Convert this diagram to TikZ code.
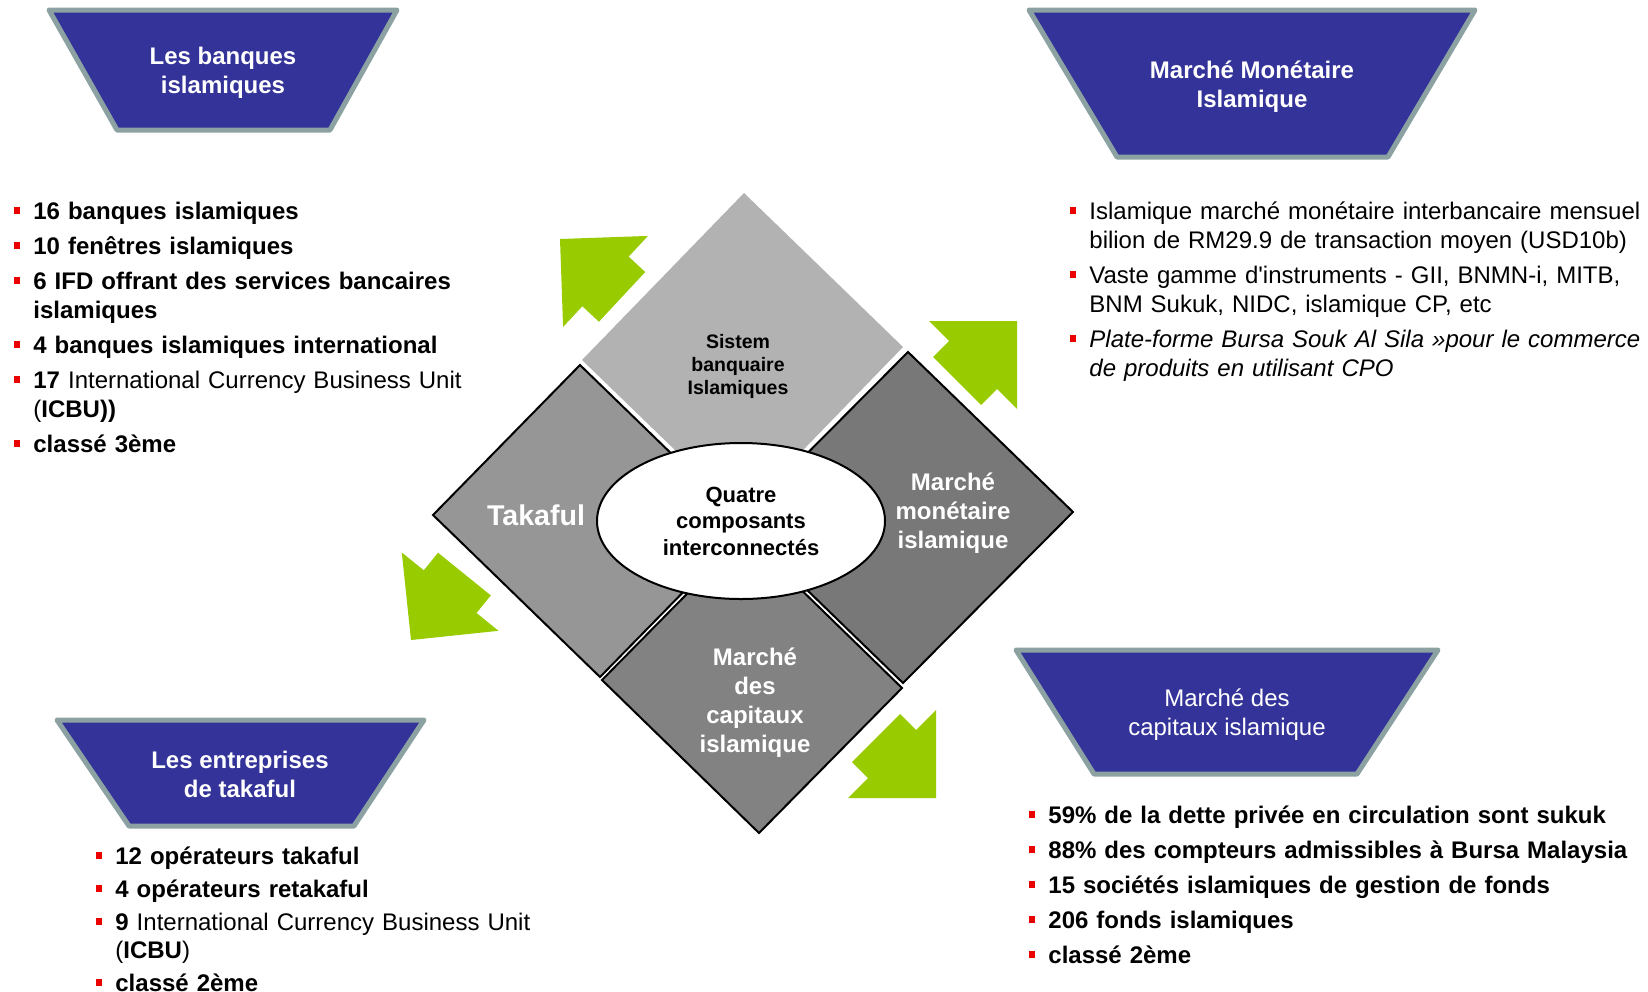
\documentclass[tikz,border=0pt]{standalone}
\usepackage{fontspec}
\setmainfont{Liberation Sans}
\usetikzlibrary{shapes.geometric}

\definecolor{trapblue}{RGB}{51,51,153}
\definecolor{trapedge}{RGB}{140,162,162}
\definecolor{leafgreen}{RGB}{153,204,0}
\definecolor{sqtop}{RGB}{178,178,178}
\definecolor{sqleft}{RGB}{150,150,150}
\definecolor{sqright}{RGB}{120,120,120}
\definecolor{sqbottom}{RGB}{130,130,130}
\definecolor{bulred}{RGB}{235,0,0}

% red square bullet with hanging indent
\newcommand\blt{\par\hangindent=9.5pt\hangafter=1\noindent\makebox[9.5pt][l]{\raisebox{2.6pt}{\textcolor{bulred}{\rule{3pt}{3.3pt}}}}}

\begin{document}
\begin{tikzpicture}[x=0.5pt,y=-0.5pt,
  trap/.style={fill=trapblue,draw=trapedge,line width=2.5pt,line join=round},
  traptext/.style={text=white,font=\bfseries\fontsize{12pt}{14.5pt}\selectfont,align=center},
  sqline/.style={draw=black,line width=1pt},
  sqtext/.style={text=white,font=\bfseries\fontsize{12pt}{14.5pt}\selectfont,align=center},
  bullist/.style={anchor=base west,inner sep=0pt,text width=#1,align=left,
    font=\fontsize{12pt}{14.5pt}\selectfont,
    execute at begin node={\setlength{\parskip}{3pt}}}]
\useasboundingbox (0,0) rectangle (1648,991);
\fill[white] (0,0) rectangle (1648,991);
%trapezoids
\draw[trap] (49,10) -- (397,10) -- (330,130) -- (117,130) -- cycle;
\node (banktitle) [traptext] at (223,73) {Les banques\\islamiques};
\draw[trap] (1029,10) -- (1475,10) -- (1388,157) -- (1117,157) -- cycle;
\node (moneytitle) [traptext] at (1252,87) {Marché Monétaire\\Islamique};
\draw[trap] (57,720) -- (424,720) -- (354,826) -- (129,826) -- cycle;
\node (takatitle) [traptext] at (240,774) {Les entreprises\\de takaful};
\draw[trap] (1016,650) -- (1438,650) -- (1357,774) -- (1094,774) -- cycle;
\node (capitaltitle) [traptext,font=\fontsize{12pt}{14.5pt}\selectfont] at (1227,715) {Marché des\\capitaux islamique};
%four squares
\fill[sqtop] (744,193) -- (903,347) -- (741,514) -- (582,360) -- cycle;
\draw[sqline,fill=sqleft] (580,365) -- (747,527) -- (600,677) -- (433,515) -- cycle;
\draw[sqline,fill=sqright] (908,352) -- (1073,512) -- (903,683) -- (738,523) -- cycle;
\draw[sqline,fill=sqbottom] (745,535) -- (902,688) -- (759,833) -- (602,680) -- cycle;
\node (sistem) [font=\bfseries\fontsize{9.75pt}{11.5pt}\selectfont,align=center] at (738,366) {Sistem\\banquaire\\Islamiques};
\node (takaful) [text=white,font=\bfseries\fontsize{14.3pt}{17pt}\selectfont] at (536,515) {Takaful};
\node (monetaire) [sqtext] at (953,513) {Marché\\monétaire\\islamique};
\node (capitaux) [sqtext] at (755,703) {Marché\\des\\capitaux\\islamique};
%centre
\node (hub) [draw,ellipse,fill=white,line width=1pt,minimum width=144pt,minimum height=78pt,inner sep=0pt,
  font=\bfseries\fontsize{11pt}{13.25pt}\selectfont,align=center] at (741,521) {Quatre\\composants\\interconnectés};
%green arrows
\foreach \tx/\ty/\sx/\sy/\rot in {560/239/1/1/2, 1017/321/-1/1/0, 411/640/1/-1/6, 936/798/-1/-1/0}
\fill[leafgreen,shift={(\tx,\ty)},rotate=\rot,xscale=\sx,yscale=\sy] (0,0) -- (88,0) -- (68,20) -- (84,36) -- (36,84) -- (20,68) -- (0,88) -- cycle;
%lists
\node (banklist) [bullist=260pt] at (14,184) {%
\blt\textbf{16 banques islamiques}
\blt\textbf{10 fenêtres islamiques}
\blt\textbf{6 IFD offrant des services bancaires\newline islamiques}
\blt\textbf{4 banques islamiques international}
\blt\textbf{17} International Currency Business Unit\newline (\textbf{ICBU))}
\blt\textbf{classé 3ème}\par};
\node (moneylist) [bullist=300pt] at (1070,184) {%
\blt Islamique marché monétaire interbancaire mensuel\newline bilion de RM29.9 de transaction moyen (USD10b)
\blt Vaste gamme d\textquotesingle instruments - GII, BNMN-i, MITB,\newline BNM Sukuk, NIDC, islamique CP, etc
\blt\textit{Plate-forme Bursa Souk Al Sila »pour le commerce\newline de produits en utilisant CPO}\par};
\node (takalist) [bullist=240pt,font=\fontsize{12pt}{14pt}\selectfont,
  execute at begin node={\setlength{\parskip}{2.5pt}}] at (96,831) {%
\blt\textbf{12 opérateurs takaful}
\blt\textbf{4 opérateurs retakaful}
\blt\textbf{9} International Currency Business Unit\newline (\textbf{ICBU})
\blt\textbf{classé 2ème}\par};
\node (capitallist) [bullist=310pt] at (1029,788) {%
\blt\textbf{59\% de la dette privée en circulation sont sukuk}
\blt\textbf{88\% des compteurs admissibles à Bursa Malaysia}
\blt\textbf{15 sociétés islamiques de gestion de fonds}
\blt\textbf{206 fonds islamiques}
\blt\textbf{classé 2ème}\par};
\end{tikzpicture}
\end{document}
